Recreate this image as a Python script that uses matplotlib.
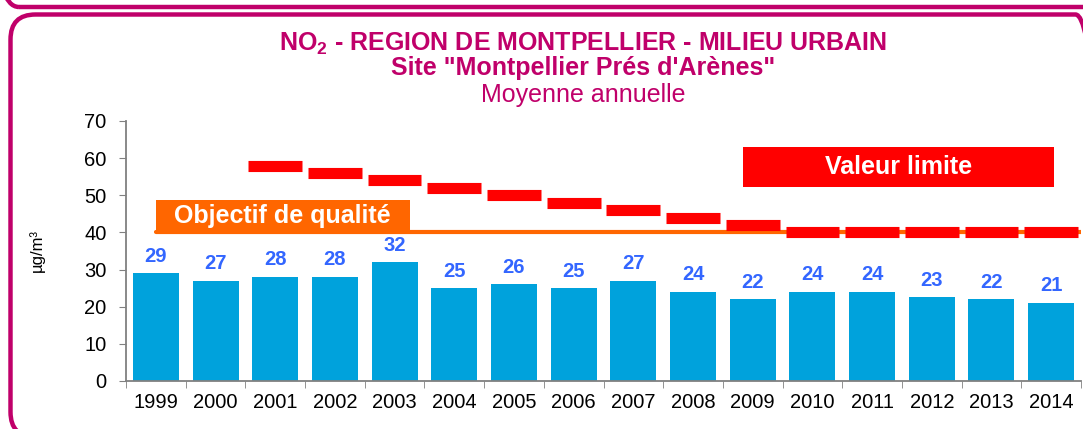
import matplotlib
matplotlib.use("Agg")
import matplotlib.pyplot as plt
from matplotlib.patches import FancyBboxPatch, Rectangle
import numpy as np

plt.rcParams['font.family'] = ['Liberation Sans', 'DejaVu Sans']
plt.rcParams['mathtext.fontset'] = 'custom'
plt.rcParams['mathtext.rm'] = 'Liberation Sans:bold'
plt.rcParams['mathtext.bf'] = 'Liberation Sans:bold'
plt.rcParams['mathtext.default'] = 'rm'

years = ['1999', '2000', '2001', '2002', '2003', '2004', '2005', '2006',
         '2007', '2008', '2009', '2010', '2011', '2012', '2013', '2014']
values = [29, 27, 28, 28, 32, 25, 26, 25, 27, 24, 22, 24, 24, 22.5, 22, 21]
value_labels = ['29', '27', '28', '28', '32', '25', '26', '25', '27', '24',
                '22', '24', '24', '23', '22', '21']
limit_years = ['2001', '2002', '2003', '2004', '2005', '2006', '2007',
               '2008', '2009', '2010', '2011', '2012', '2013', '2014']
limit_values = [58, 56, 54, 52, 50, 48, 46, 44, 42, 40, 40, 40, 40, 40]
quality_objective = 40
yticks = [0, 10, 20, 30, 40, 50, 60, 70]

MAGENTA = '#C0006A'
BAR = '#00A2DC'
LABEL = '#3366FF'
RED = '#FF0000'
ORANGE = '#FF6600'

W, H = 1083, 429
fig = plt.figure(figsize=(W / 100, H / 100), dpi=100)
fig.patch.set_facecolor('white')

# frames (in inches)
fig.patches.append(FancyBboxPatch((0.105, -0.08), 10.9, 4.225,
                                  boxstyle="round,pad=0,rounding_size=0.25",
                                  transform=fig.dpi_scale_trans, fill=False,
                                  edgecolor=MAGENTA, lw=3.2))
fig.patches.append(FancyBboxPatch((-0.03, 4.22), 11.5, 1.0,
                                  boxstyle="round,pad=0,rounding_size=0.22",
                                  transform=fig.dpi_scale_trans, fill=False,
                                  edgecolor=MAGENTA, lw=3.2))

ax = fig.add_axes([126 / W, 1 - 381 / H, (1081 - 126) / W, (381 - 121) / H])
x = np.arange(len(years))
ax.bar(x, values, width=0.77, color=BAR, zorder=2)
for xi, v, lab in zip(x, values, value_labels):
    ax.annotate(lab, (xi, v), xytext=(0, 5.5), textcoords='offset points',
                ha='center', va='bottom', fontsize=14.5, fontweight='bold',
                color=LABEL)

# quality objective line
ax.hlines(quality_objective, 0, 15.5, color=ORANGE, lw=3, zorder=3,
          capstyle='round')
ax.add_patch(Rectangle((0, quality_objective), 4.25, 8.7, facecolor=ORANGE,
                       edgecolor='none', zorder=3))
ax.text(2.125, quality_objective + 4.3, 'Objectif de qualité', ha='center',
        va='center', color='white', fontsize=18, fontweight='bold', zorder=4)

# limit values
lx = np.array([years.index(y) for y in limit_years])
for xi, v in zip(lx, limit_values):
    ax.plot([xi - 0.45, xi + 0.45], [v, v], color=RED, lw=8,
            solid_capstyle='butt', zorder=4)
ax.add_patch(Rectangle((9.84, 52.2), 5.2, 10.8, facecolor=RED,
                       edgecolor='none', zorder=4))
ax.text(12.44, 57.6, 'Valeur limite', ha='center', va='center',
        color='white', fontsize=18, fontweight='bold', zorder=5)

ax.set_xlim(-0.5, 15.5)
ax.set_ylim(0, 70)
ax.set_yticks(yticks)
ax.tick_params(axis='y', labelsize=14.5, length=5, color='#808080', pad=9)
ax.set_xticks(x)
ax.set_xticklabels(years)
ax.set_xticks(np.arange(-0.5, 16, 1), minor=True)
ax.tick_params(axis='x', which='major', length=0, labelsize=14.5, pad=9)
ax.tick_params(axis='x', which='minor', length=5, color='#808080')
for s in ['top', 'right']:
    ax.spines[s].set_visible(False)
for s in ['left', 'bottom']:
    ax.spines[s].set_color('#808080')
    ax.spines[s].set_linewidth(1.3)

fig.text(37 / W, 1 - 250 / H, 'µg/m³', rotation=90, ha='center',
         va='center', fontsize=12)

fig.text(583 / W, 1 - 44 / H, r'NO$_2$ - REGION DE MONTPELLIER - MILIEU URBAIN',
         ha='center', va='center', fontsize=18, fontweight='bold',
         color=MAGENTA)
fig.text(583 / W, 1 - 68 / H, 'Site "Montpellier Prés d\'Arènes"',
         ha='center', va='center', fontsize=18, fontweight='bold',
         color=MAGENTA)
fig.text(583 / W, 1 - 95 / H, 'Moyenne annuelle', ha='center', va='center',
         fontsize=18, color=MAGENTA)

fig.savefig('out.png', dpi=100)
